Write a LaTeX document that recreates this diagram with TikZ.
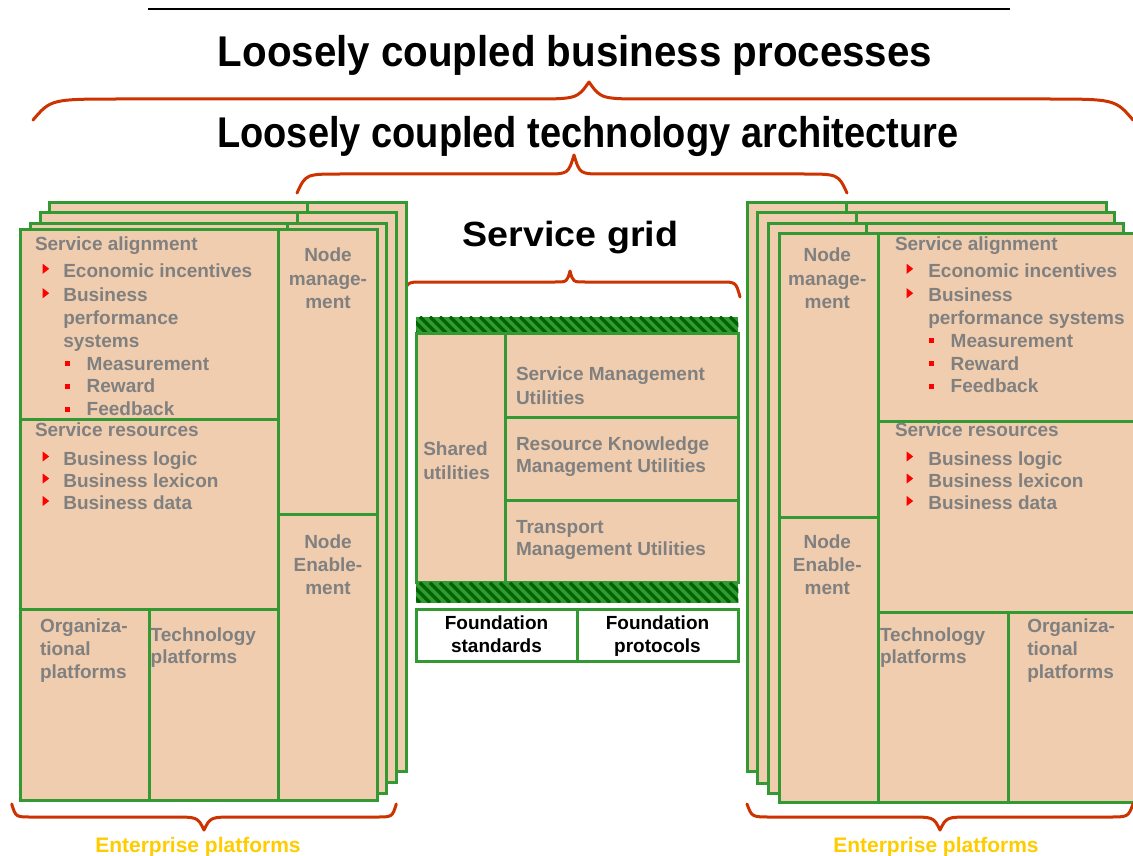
\documentclass[tikz,border=0pt]{standalone}
\usepackage{fontspec}
\setmainfont{Liberation Sans}
\usepackage{graphicx}

\definecolor{peach}{RGB}{240,205,174}
\definecolor{gridgreen}{RGB}{51,153,51}
\definecolor{stripegreen}{RGB}{0,100,0}
\definecolor{labelgray}{RGB}{128,128,128}
\definecolor{bracered}{RGB}{204,51,0}
\definecolor{platyellow}{RGB}{255,204,0}

\tikzset{
  panel/.style={draw=gridgreen, line width=3pt, fill=peach},
  plainpanel/.style={draw=gridgreen, line width=3pt, fill=white},
  divider/.style={draw=gridgreen, line width=3pt},
  lbl/.style={text=labelgray, font=\fontsize{19}{23}\selectfont\bfseries, inner sep=0pt, outer sep=0pt, anchor=base west},
  clbl/.style={lbl, anchor=base},
  blk/.style={lbl, text=black, anchor=base},
  curly/.style={draw=bracered, line width=3pt, line join=round, line cap=round},
  heading/.style={font=\fontsize{43}{48}\selectfont\bfseries, inner sep=0pt, anchor=base},
  footer/.style={text=platyellow, font=\fontsize{21}{24}\selectfont\bfseries, inner sep=0pt, anchor=base},
}

% red bullets, placed by the baseline of their text line
\newcommand{\tribul}[2]{\fill[red] ({#1},{#2-13.5}) -- ({#1},{#2-3.5}) -- ({#1+6.5},{#2-8.5}) -- cycle;}
\newcommand{\sqbul}[2]{\fill[red] ({#1},{#2-9}) rectangle ({#1+5},{#2-4});}

% curly brace: left x, tip x, right x, end y, line y, tip y, end-curve width, tip-curve width
\newcommand{\drawbrace}[8]{%
  \draw[curly] (#1,#4) .. controls ({#1+0.2*#7},#5) .. ({#1+#7},#5)
    -- ({#2-#8},#5) .. controls ({#2-0.2*#8},#5) .. (#2,#6)
    .. controls ({#2+0.2*#8},#5) .. ({#2+#8},#5)
    -- ({#3-#7},#5) .. controls ({#3-0.2*#7},#5) .. (#3,#4);}

% one sheet behind the front sheet of a stack
\newcommand{\backsheet}[5]{%
  \draw[panel] (#1,#2) rectangle (#3,#4);
  \draw[divider] (#5,#2) -- (#5,#4);}

% striped green bar
\newcommand{\hatchbar}[4]{%
  \fill[gridgreen] (#1,#2) rectangle (#3,#4);
  \begin{scope}
    \clip (#1,#2) rectangle (#3,#4);
    \foreach \s in {380,390,...,750}
      \draw[stripegreen, line width=3.4pt] (\s,#2) -- ({\s+#4-#2},#4);
  \end{scope}}

\begin{document}
\begin{tikzpicture}[x=1pt, y=-1pt]
\fill[white] (0,0) rectangle (1133,856);
\useasboundingbox (0,0) rectangle (1133,856);
\clip (0,0) rectangle (1133,856);

% ---- headings and braces ----
\draw[line width=1.5pt] (148,9) -- (1010,9);
\node[heading] (bizproc) at (575,66.7) {\scalebox{0.937}[1]{Loosely coupled business processes}};
\drawbrace{33}{589}{1133}{120}{99}{82}{90}{60}
\node[heading] (techarch) at (588,148) {\scalebox{0.884}[1]{Loosely coupled technology architecture}};
\drawbrace{297}{574}{847}{193}{174}{155}{44}{29}
\node[heading, font=\fontsize{35}{40}\selectfont\bfseries] (grid) at (570.5,246.7) {\scalebox{1.075}[1]{Service grid}};
\drawbrace{403}{570}{740}{297}{282}{271}{20}{15}

% ---- left stack of enterprise platform sheets ----
\backsheet{49.3}{202.7}{406.7}{771.7}{307}
\backsheet{40}{212.7}{396.7}{782.7}{297}
\backsheet{30}{223.3}{386.7}{793.3}{287}
\draw[panel] (20.7,229.3) rectangle (377.6,800);
\draw[divider] (278,229.3) -- (278,800);
\draw[divider] (20.7,419.3) -- (278,419.3);
\draw[divider] (20.7,609.3) -- (278,609.3);
\draw[divider] (149,609.3) -- (149,800);
\draw[divider] (278,514) -- (377.6,514);

\node[lbl] (lsa) at (35,250.7) {Service alignment};
\tribul{42.7}{277.3}
\node[lbl] (lsa1) at (63.3,277.3) {Economic incentives};
\tribul{42.7}{301.7}
\node[lbl] (lsa2a) at (63.3,301.7) {Business};
\node[lbl] (lsa2b) at (63.3,324.5) {performance};
\node[lbl] (lsa2c) at (63.3,347) {systems};
\sqbul{65}{370}
\node[lbl] (lsa3) at (86.7,370) {Measurement};
\sqbul{65}{392.5}
\node[lbl] (lsa4) at (86.7,392.5) {Reward};
\sqbul{65}{415.5}
\node[lbl] (lsa5) at (86.7,415.5) {Feedback};

\node[lbl] (lsr) at (35,436.7) {Service resources};
\tribul{42.7}{465}
\node[lbl] (lsr1) at (63.3,465) {Business logic};
\tribul{42.7}{487}
\node[lbl] (lsr2) at (63.3,487) {Business lexicon};
\tribul{42.7}{509.5}
\node[lbl] (lsr3) at (63.3,509.5) {Business data};

\node[clbl] (lnm1) at (328,261.7) {Node};
\node[clbl] (lnm2) at (328,285) {manage-};
\node[clbl] (lnm3) at (328,308.3) {ment};
\node[clbl] (lne1) at (328,548) {Node};
\node[clbl] (lne2) at (328,571) {Enable-};
\node[clbl] (lne3) at (328,594) {ment};

\node[lbl] (lorg1) at (40,632.3) {Organiza-};
\node[lbl] (lorg2) at (40,655) {tional};
\node[lbl] (lorg3) at (40,678.3) {platforms};
\node[lbl] (ltech1) at (150.7,641.7) {Technology};
\node[lbl] (ltech2) at (150.7,663.3) {platforms};

\drawbrace{11.7}{204}{396.3}{804}{817}{830}{20}{32}
\node[footer] (lent) at (198,852) {Enterprise platforms};

% ---- service grid ----
\hatchbar{416}{316.7}{738.3}{333.3}
\draw[panel] (416,333.3) rectangle (738.3,582.7);
\draw[divider] (505.7,333.3) -- (505.7,582.7);
\draw[divider] (505.7,417.7) -- (738.3,417.7);
\draw[divider] (505.7,500) -- (738.3,500);
\hatchbar{416}{582.7}{738.3}{602.7}
\draw[plainpanel] (416,609.3) rectangle (738.3,661.7);
\draw[divider] (577.3,609.3) -- (577.3,661.7);

\node[lbl] (shu1) at (423.3,455.7) {Shared};
\node[lbl] (shu2) at (423.3,479) {utilities};
\node[lbl] (smu1) at (516,380) {Service Management};
\node[lbl] (smu2) at (516,404) {Utilities};
\node[lbl] (rkm1) at (516,450.7) {Resource Knowledge};
\node[lbl] (rkm2) at (516,472.7) {Management Utilities};
\node[lbl] (tmu1) at (516,533.3) {Transport};
\node[lbl] (tmu2) at (516,555) {Management Utilities};
\node[blk] (fst1) at (496.5,629.3) {Foundation};
\node[blk] (fst2) at (496.5,652.7) {standards};
\node[blk] (fpr1) at (657.5,629.3) {Foundation};
\node[blk] (fpr2) at (657.5,652.7) {protocols};

% ---- right stack of enterprise platform sheets ----
\backsheet{747.3}{202.7}{1106.7}{771.7}{846}
\backsheet{757.3}{212.7}{1114}{783.3}{856.7}
\backsheet{768}{223.3}{1123}{793.3}{866.7}
\draw[panel] (779.3,233.3) rectangle (1140,802.7);
\draw[divider] (878.3,233.3) -- (878.3,802.7);
\draw[divider] (878.3,421.7) -- (1140,421.7);
\draw[divider] (878.3,612.3) -- (1140,612.3);
\draw[divider] (1008.7,612.3) -- (1008.7,802.7);
\draw[divider] (779.3,517) -- (878.3,517);

\node[clbl] (rnm1) at (827.3,261.7) {Node};
\node[clbl] (rnm2) at (827.3,285) {manage-};
\node[clbl] (rnm3) at (827.3,308.3) {ment};
\node[clbl] (rne1) at (827.3,548) {Node};
\node[clbl] (rne2) at (827.3,571) {Enable-};
\node[clbl] (rne3) at (827.3,594) {ment};

\node[lbl] (rsa) at (895,250.7) {Service alignment};
\tribul{906.7}{277.3}
\node[lbl] (rsa1) at (928.3,277.3) {Economic incentives};
\tribul{906.7}{301.7}
\node[lbl] (rsa2a) at (928.3,301.7) {Business};
\node[lbl] (rsa2b) at (928.3,324.5) {performance systems};
\sqbul{929.3}{347.3}
\node[lbl] (rsa3) at (950.7,347.3) {Measurement};
\sqbul{929.3}{370}
\node[lbl] (rsa4) at (950.7,370) {Reward};
\sqbul{929.3}{392.7}
\node[lbl] (rsa5) at (950.7,392.7) {Feedback};

\node[lbl] (rsr) at (895,436.7) {Service resources};
\tribul{906.7}{465}
\node[lbl] (rsr1) at (928.3,465) {Business logic};
\tribul{906.7}{487}
\node[lbl] (rsr2) at (928.3,487) {Business lexicon};
\tribul{906.7}{509.5}
\node[lbl] (rsr3) at (928.3,509.5) {Business data};

\node[lbl] (rtech1) at (880,641.7) {Technology};
\node[lbl] (rtech2) at (880,663.3) {platforms};
\node[lbl] (rorg1) at (1027.3,632.3) {Organiza-};
\node[lbl] (rorg2) at (1027.3,655) {tional};
\node[lbl] (rorg3) at (1027.3,678.3) {platforms};

\drawbrace{747}{940}{1133}{804}{817}{830}{24}{32}
\node[footer] (rent) at (936,852) {Enterprise platforms};
\end{tikzpicture}
\end{document}
